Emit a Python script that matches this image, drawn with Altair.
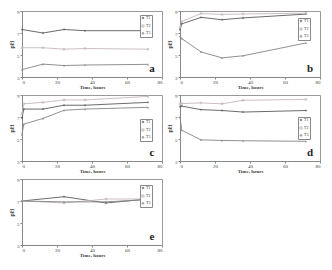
import altair as alt
import pandas as pd

series = ["T1", "T2", "T3"]
colors = ["#5a5a5a", "#c4b8c0", "#858585"]
shapes = ["diamond", "square", "triangle-up"]

# panel a
a_time = [0, 12, 24, 36, 72]
a_T1 = [7.32, 7.0, 7.32, 7.21, 7.21]
a_T2 = [5.66, 5.66, 5.53, 5.59, 5.53]
a_T3 = [3.67, 4.17, 4.04, 4.09, 4.15]

# panel b
b_time = [0, 1, 12, 24, 36, 72]
b_T1 = [7.3, 7.83, 8.42, 8.21, 8.37, 8.72]
b_T2 = [7.5, 8.05, 8.77, 8.69, 8.73, 8.8]
b_T3 = [6.7, 6.49, 5.28, 4.74, 4.93, 6.09]

# panel c
c_time = [0, 1, 12, 24, 36, 72]
c_T1 = [6.9, 7.72, 7.72, 8.07, 8.07, 8.33]
c_T2 = [7.3, 8.2, 8.33, 8.55, 8.55, 8.87]
c_T3 = [5.4, 6.35, 6.87, 7.61, 7.72, 7.88]

# panel d
d_time = [0, 1, 12, 24, 36, 72]
d_T1 = [7.93, 7.99, 7.67, 7.59, 7.45, 7.59]
d_T2 = [8.2, 8.22, 8.28, 8.2, 8.52, 8.6]
d_T3 = [7.0, 5.8, 4.92, 4.87, 4.84, 4.79]

# panel e
e_time = [0, 24, 48, 72]
e_T1 = [7.0, 7.39, 6.82, 7.18]
e_T2 = [7.0, 6.82, 7.18, 7.18]
e_T3 = [7.0, 6.92, 6.92, 7.13]

x_ticks = [0, 20, 40, 60, 80]
y_ticks = [3, 5, 7, 9]

W, H = 140, 66
FONT = "Liberation Serif"


def panel(label, time, t1, t2, t3, legend_y):
    rows = []
    for name, vals in zip(series, [t1, t2, t3]):
        for t, v in zip(time, vals):
            rows.append({"Time": t, "pH": v, "Series": name})
    df = pd.DataFrame(rows)
    xax = alt.Axis(values=x_ticks, title="Time, hours", grid=False, labelFontSize=5,
                   titleFontSize=5, labelPadding=0, titlePadding=0, tickSize=2,
                   labelFont=FONT, titleFont=FONT, domainColor="#888", tickColor="#888",
                   labelColor="#444", titleColor="#444")
    yax = alt.Axis(values=y_ticks, title="pH", grid=False, labelFontSize=5,
                   titleFontSize=6, labelPadding=1, titlePadding=2, tickSize=2,
                   labelFont=FONT, titleFont=FONT, domainColor="#888", tickColor="#888",
                   labelColor="#444", titleColor="#444")
    x = alt.X("Time:Q", scale=alt.Scale(domain=[0, 80], nice=False), axis=xax)
    y = alt.Y("pH:Q", scale=alt.Scale(domain=[3, 9], nice=False), axis=yax)
    cscale = alt.Scale(domain=series, range=colors)
    sscale = alt.Scale(domain=series, range=shapes)
    leg = alt.Legend(title=None, orient="none", legendX=W - 22, legendY=legend_y,
                     fillColor="white", strokeColor="#888", padding=1, labelFontSize=4,
                     symbolSize=5, rowPadding=0, labelOffset=1, symbolStrokeWidth=1,
                     labelFont=FONT, labelColor="#333")
    base = alt.Chart(df)
    lines = base.mark_line(strokeWidth=0.9).encode(
        x=x, y=y, color=alt.Color("Series:N", scale=cscale, legend=leg))
    pts = base.mark_point(filled=True, size=6).encode(
        x=x, y=y,
        color=alt.Color("Series:N", scale=cscale, legend=leg),
        shape=alt.Shape("Series:N", scale=sscale, legend=leg))
    lab = alt.Chart(pd.DataFrame({"t": [label]})).mark_text(
        font=FONT, fontWeight="bold", fontSize=11, color="#222").encode(
        text="t:N", x=alt.value(W - 10), y=alt.value(H - 8))
    return alt.layer(lines, pts, lab).properties(width=W, height=H)


pa = panel("a", a_time, a_T1, a_T2, a_T3, 4)
pb = panel("b", b_time, b_T1, b_T2, b_T3, 7)
pc = panel("c", c_time, c_T1, c_T2, c_T3, 24)
pd_ = panel("d", d_time, d_T1, d_T2, d_T3, 22)
pe = panel("e", e_time, e_T1, e_T2, e_T3, 6)

row1 = alt.hconcat(pa, pb, spacing=3).resolve_legend(color="independent", shape="independent")
row2 = alt.hconcat(pc, pd_, spacing=3).resolve_legend(color="independent", shape="independent")
chart = alt.vconcat(row1, row2, pe, spacing=2).resolve_legend(
    color="independent", shape="independent").configure_view(
    stroke="#999", strokeWidth=1).properties(padding=0, background="white")

chart.save("out.html", embed_options={"renderer": "svg", "actions": False})
